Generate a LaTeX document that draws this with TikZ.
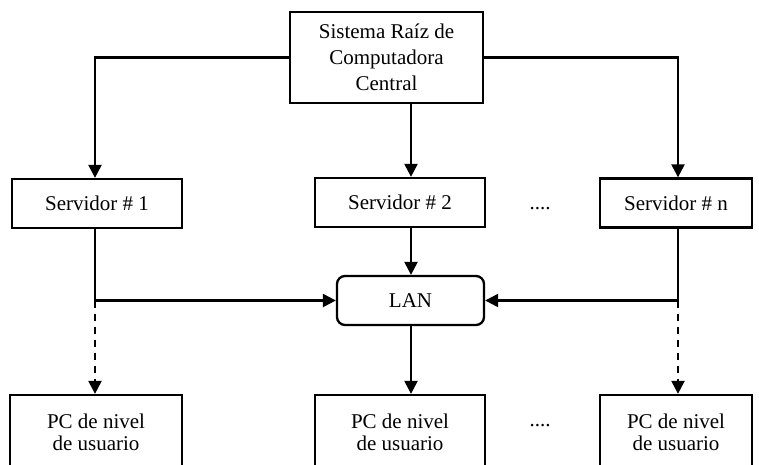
\documentclass[tikz,border=0pt]{standalone}
\usepackage{fontspec}
\setmainfont{Liberation Serif}
\usetikzlibrary{arrows.meta}
\begin{document}
\begin{tikzpicture}[x=1pt,y=-1pt,
  box/.style={draw,line width=2.3pt,align=center,inner sep=0pt,font=\fontsize{21}{26}\selectfont},
  arr/.style={line width=2.3pt,-{Triangle[length=13pt,width=13pt]}},
  dots/.style={font=\fontsize{21}{26}\selectfont,anchor=base,inner sep=0pt}]
\useasboundingbox (0,0) rectangle (759,464);
\node[box,minimum width=193pt,minimum height=91pt] (top) at (386.5,57.5) {Sistema Raíz de\\Computadora\\Central};
\node[box,minimum width=170pt,minimum height=49pt] (s1) at (97,203.5) {Servidor \# 1};
\node[box,minimum width=170pt,minimum height=49pt] (s2) at (400,202.5) {Servidor \# 2};
\node[box,minimum width=152pt,minimum height=49pt] (sn) at (676,203) {Servidor \# n};
\node[box,rounded corners=8pt,minimum width=147pt,minimum height=49pt] (lan) at (410.5,300.5) {LAN};
\node[box,minimum width=172pt,minimum height=75pt,font=\fontsize{21}{22}\selectfont] (pc1) at (96,432.5) {PC de nivel\\de usuario};
\node[box,minimum width=170pt,minimum height=75pt,font=\fontsize{21}{22}\selectfont] (pc2) at (400,432.5) {PC de nivel\\de usuario};
\node[box,minimum width=152pt,minimum height=75pt,font=\fontsize{21}{22}\selectfont] (pcn) at (676,432.5) {PC de nivel\\de usuario};
\node[dots] (d1) at (540,209) {....};
\node[dots] (d2) at (540,426) {....};
\coordinate (xl) at (95,0);
\coordinate (xm) at (411,0);
\coordinate (xr) at (678,0);
\draw[arr] (top.west) -| (s1.north -| xl);
\draw[arr] (top.east) -| (sn.north -| xr);
\draw[arr] (top.south -| xm) -- (s2.north -| xm);
\draw[arr] (s2.south -| xm) -- (lan.north -| xm);
\draw[arr] (lan.south -| xm) -- (pc2.north -| xm);
\draw[arr] (s1.south -| xl) |- (lan.west);
\draw[arr] (sn.south -| xr) |- (lan.east);
\draw[arr,dash pattern=on 7pt off 6pt] (lan.west -| xl) -- (pc1.north -| xl);
\draw[arr,dash pattern=on 7pt off 6pt] (lan.east -| xr) -- (pcn.north -| xr);
\end{tikzpicture}
\end{document}
